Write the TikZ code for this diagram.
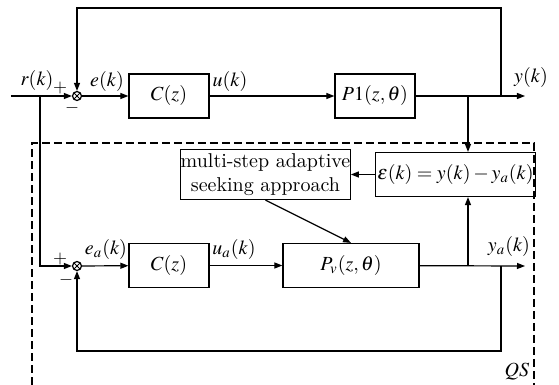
\documentclass[tikz,border=0pt]{standalone}
\usepackage{mathptmx}
\usetikzlibrary{arrows.meta}

\begin{document}
\begin{tikzpicture}[x=0.5pt,y=-0.5pt,line width=0.6pt]
\tikzstyle{box}=[rectangle,draw,align=center,minimum width=40pt,minimum height=22pt,inner sep=1pt]
\tikzstyle{arrow}=[-{Triangle[length=4pt,width=3pt]}]
\tikzstyle{sum}=[circle,draw,inner sep=0pt,minimum size=4.5pt,path picture={\draw[line width=0.4pt] (path picture bounding box.north west) -- (path picture bounding box.south east) (path picture bounding box.north east) -- (path picture bounding box.south west);}]
\tikzstyle{sign}=[inner sep=0pt,font=\small]
\useasboundingbox (0,0) rectangle (559,385);
% upper loop
\node (sum1) [sum] at (77,96) {};
\node (c1) [box] at (169,96) {$C(z)$};
\node (p1) [box] at (375,96) {$P1(z,\theta)$};
\coordinate (in) at (11,96);
\coordinate (rb) at (40,96);
\coordinate (br1) at (468,96);
\coordinate (fb1) at (501,96);
\coordinate (out1) at (525,96);
\coordinate (topfb) at (501,8);
% QS block
\node (eps) [box,minimum width=73pt] at (455.5,174.5) {$\varepsilon(k)=y(k)-y_a(k)$};
\node (seek) [box,minimum width=81pt,minimum height=25pt,inner sep=0pt] at (265.5,174.5) {multi-step adaptive\\seeking approach};
\node (sum2) [sum] at (77,266) {};
\node (c2) [box] at (169,265.5) {$C(z)$};
\node (pv) [box,minimum width=68pt] at (351,265.5) {$P_v(z,\theta)$};
\coordinate (br2) at (468,266);
\coordinate (fb2) at (501,266);
\coordinate (out2) at (525,266);
\coordinate (botfb) at (501,351);

\draw [dashed,dash pattern=on 4pt off 2pt] (32,385) |- (534,143) -- (534,385);

\draw [arrow] (in) -- (sum1);
\draw [arrow] (sum1) -- (c1);
\draw [arrow] (c1) -- (p1);
\draw [arrow] (p1) -- (out1);
\draw [arrow] (fb1) -- (topfb) -| (sum1);
\draw [arrow] (br1) -- (br1 |- eps.north);
\draw [arrow] (eps) -- (seek);
\draw [arrow] (seek.south) -- (pv.north);
\draw [arrow] (rb) |- (sum2);
\draw [arrow] (sum2) -- (c2);
\draw [arrow] (c2) -- (pv);
\draw [arrow] (pv) -- (out2);
\draw [arrow] (br2) -- (br2 |- eps.south);
\draw [arrow] (fb2) -- (botfb) -| (sum2);

% signal labels
\node (rk) at (37,81) {$r(k)$};
\node (ek) at (107,82) {$e(k)$};
\node (uk) at (230,82) {$u(k)$};
\node (yk) at (531,78) {$y(k)$};
\node (eak) at (106,250) {$e_a(k)$};
\node (uak) at (234,250) {$u_a(k)$};
\node (yak) at (509,247) {$y_a(k)$};
\node (qs) at (517,372) {$QS$};
\node (plus1) [sign] at (60,88) {$+$};
\node (minus1) [sign] at (72,108) {$-$};
\node (plus2) [sign] at (60,259) {$+$};
\node (minus2) [sign] at (66,280) {$-$};
\end{tikzpicture}
\end{document}
